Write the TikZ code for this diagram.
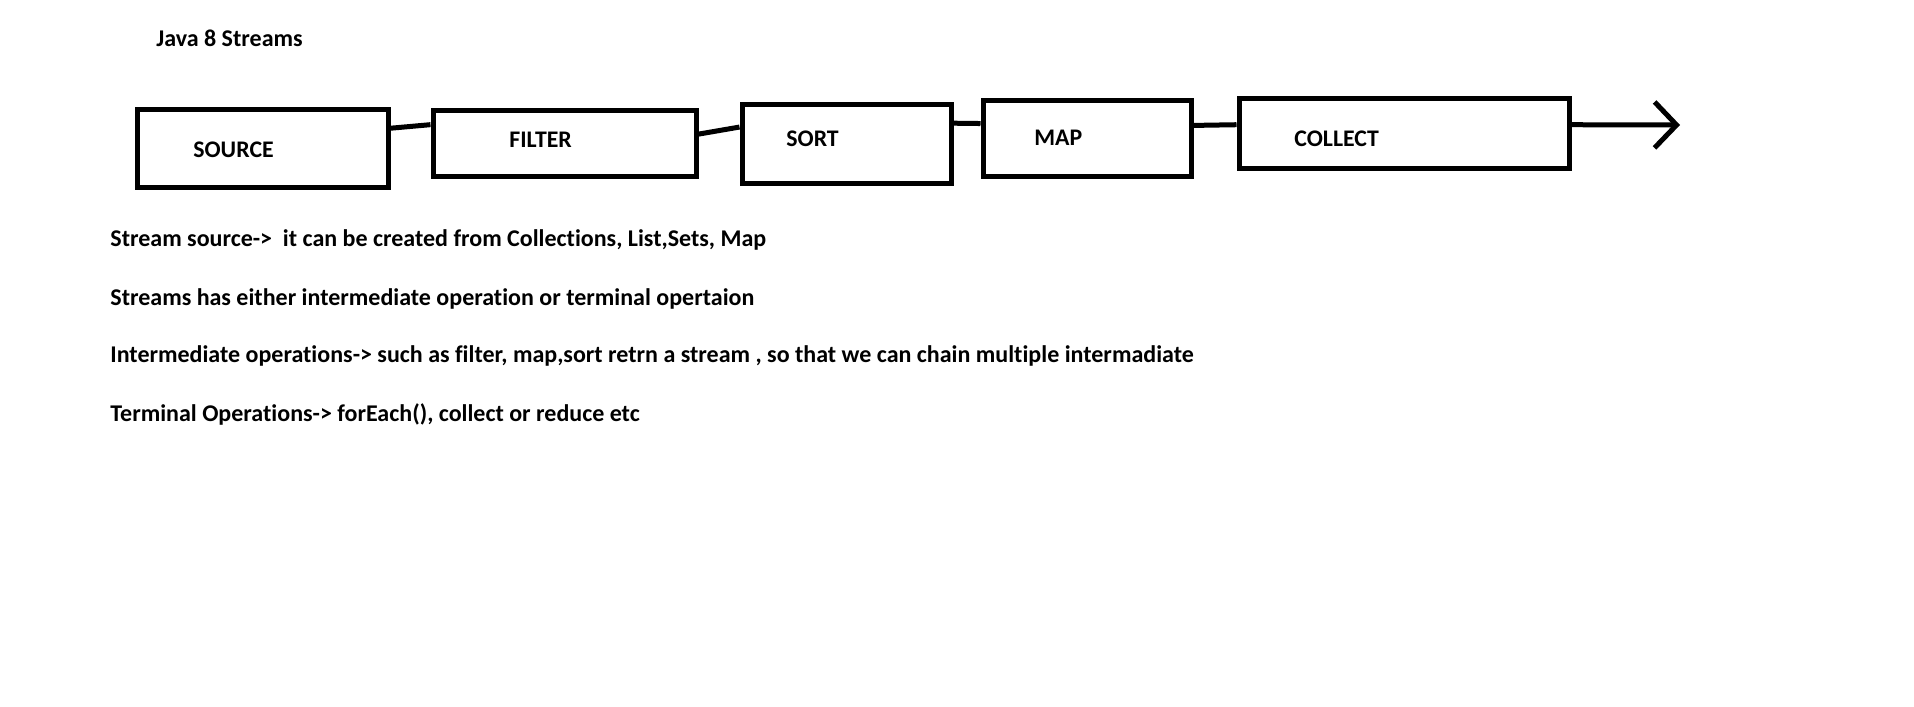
\documentclass[tikz,border=0pt]{standalone}
\usepackage{fontspec}
\setmainfont{Carlito}[Ligatures=NoCommon]
\usetikzlibrary{arrows.meta}

\begin{document}
\begin{tikzpicture}[
	x=0.5pt, y=-0.5pt,
	stage/.style={rectangle, draw=black, line width=2.5pt, inner sep=0pt},
	stagetext/.style={font=\bfseries\fontsize{11.9}{14}\selectfont, anchor=base west, inner sep=0pt},
	note/.style={font=\bfseries\fontsize{12}{14}\selectfont, anchor=base west, inner sep=0pt},
	link/.style={line width=2.5pt, draw=black},
	flow/.style={line width=2.5pt, draw=black, -{Straight Barb[length=11pt, width=23pt, line width=2.5pt]}}
]
\useasboundingbox (0,0) rectangle (1914,706);
% title
\node (title) [note] at (156,47) {Java 8 Streams};
% pipeline boxes
\node (source) [stage, minimum width=251*0.5pt, minimum height=77*0.5pt] at (262.5,148.5) {};
\node (filter) [stage, minimum width=263*0.5pt, minimum height=65*0.5pt] at (564.5,143.5) {};
\node (sort) [stage, minimum width=209*0.5pt, minimum height=78*0.5pt] at (846.5,144) {};
\node (map) [stage, minimum width=208*0.5pt, minimum height=75*0.5pt] at (1087,138.5) {};
\node (collect) [stage, minimum width=330*0.5pt, minimum height=69*0.5pt] at (1404,133.5) {};
\node (sourcetext) [stagetext] at (193,157) {SOURCE};
\node (filtertext) [stagetext] at (509,148) {FILTER};
\node (sorttext) [stagetext] at (786,147) {SORT};
\node (maptext) [stagetext] at (1034,145) {MAP};
\node (collecttext) [stagetext] at (1294,146) {COLLECT};
\coordinate (end) at (1680,125);
% connectors
\draw [link] (source.9) -- (filter.172);
\draw [link] (filter.4) -- (sort.171);
\draw [link] (sort.11) -- (map.172);
\draw [link] (map.7) -- (collect.177);
\draw [flow] (collect.3) -- (end);
% notes
\node (srcnote) [note] at (110,246.5) {Stream source->\ \ it can be created from Collections, List,Sets, Map};
\node (opsnote) [note] at (110,305.5) {Streams has either intermediate operation or terminal opertaion};
\node (intnote) [note] at (110,362.5) {Intermediate operations-> such as filter, map,sort retrn a stream , so that we can chain multiple intermadiate};
\node (termnote) [note] at (110,421.5) {Terminal Operations-> forEach(), collect or reduce etc};
\end{tikzpicture}
\end{document}
